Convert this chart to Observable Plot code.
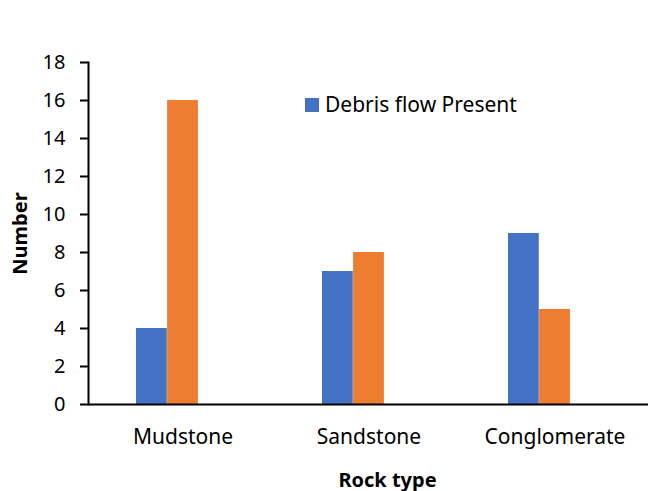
<!DOCTYPE html>
<html>
<head>
<meta charset="utf-8">
<script src="https://cdn.jsdelivr.net/npm/d3@7"></script>
<script src="https://cdn.jsdelivr.net/npm/@observablehq/plot@0.6"></script>
<style>
  html, body { margin: 0; padding: 0; background: #fff; }
  #wrap { position: relative; width: 648px; height: 491px; font-family: "Noto Sans", sans-serif; }
  #legend { position: absolute; left: 305px; top: 94px; display: flex; align-items: center; font-size: 21px; color: #000; line-height: 1; }
  #legend .sw { width: 14px; height: 14px; background: #4472C4; margin-right: 6px; }
</style>
</head>
<body>
<div id="wrap"></div>
<script>
const categories = ["Mudstone", "Sandstone", "Conglomerate"];
const present = [4, 7, 9];
const absent = [16, 8, 5];
const yTicks = [0, 2, 4, 6, 8, 10, 12, 14, 16, 18];
const seriesName = "Debris flow Present";
const xTitle = "Rock type";
const yTitle = "Number";

const presentData = categories.map((c, i) => ({category: c, value: present[i]}));
const absentData = categories.map((c, i) => ({category: c, value: absent[i]}));

const W = 648, H = 491, ML = 88, MR = 0, MT = 62, MB = 87;
const bw = (W - ML - MR) / categories.length * 0.5;

const chart = Plot.plot({
  width: W,
  height: H,
  marginLeft: ML,
  marginRight: MR,
  marginTop: MT,
  marginBottom: MB,
  style: {fontFamily: "Noto Sans, sans-serif", fontSize: "20px", color: "#000", background: "#fff"},
  x: {type: "band", domain: categories, paddingInner: 0.5, paddingOuter: 0.25, label: null},
  y: {domain: [0, 18], label: null},
  marks: [
    Plot.barY(presentData, {x: "category", y: "value", fill: "#4472C4", insetLeft: 0, insetRight: bw * 2 / 3}),
    Plot.barY(absentData, {x: "category", y: "value", fill: "#ED7D31", insetLeft: bw / 3, insetRight: bw / 3}),
    Plot.axisY({ticks: yTicks, tickSize: 8, tickPadding: 15, strokeWidth: 2, label: null, fontSize: 20}),
    Plot.axisX({tickSize: 0, tickPadding: 25, label: null, fontSize: 21}),
    Plot.frame({anchor: "left", stroke: "#000", strokeWidth: 2}),
    Plot.ruleY([0], {stroke: "#000", strokeWidth: 2}),
    Plot.text([yTitle], {frameAnchor: "left", textAnchor: "middle", rotate: -90, dx: -62, lineAnchor: "bottom", fontWeight: "bold", fontSize: 20, fill: "#000"}),
    Plot.text([xTitle], {frameAnchor: "bottom", textAnchor: "middle", dx: 19, dy: 82, lineAnchor: "bottom", fontWeight: "bold", fontSize: 20, fill: "#000"})
  ]
});

const wrap = document.getElementById("wrap");
wrap.appendChild(chart);
const legend = document.createElement("div");
legend.id = "legend";
legend.innerHTML = `<div class="sw"></div><span>${seriesName}</span>`;
wrap.appendChild(legend);
</script>
</body>
</html>
